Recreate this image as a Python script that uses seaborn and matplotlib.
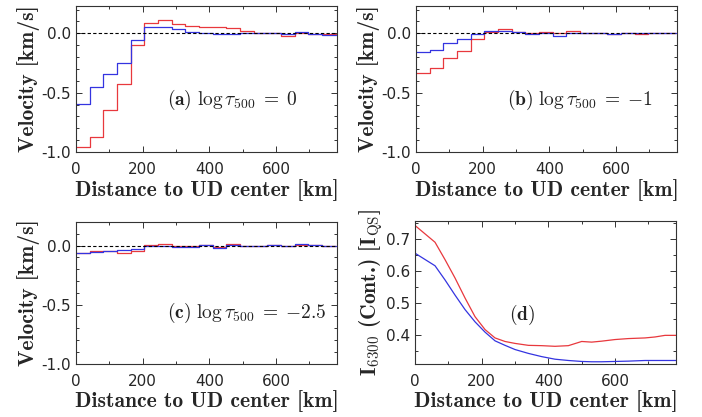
import matplotlib
matplotlib.use("Agg")
import numpy as np
import pandas as pd
import matplotlib.pyplot as plt
import seaborn as sns
from matplotlib.ticker import MultipleLocator

# -------------------------
# Data
# -------------------------
# bin edges of the velocity histograms [km]
bin_edges = [0, 41, 82, 123, 164, 205, 246, 287, 328, 369, 410,
             451, 492, 533, 574, 615, 656, 697, 738, 779]

# (a) log tau = 0
vel_a_red = [-0.955, -0.876, -0.646, -0.427, -0.098, 0.090, 0.112, 0.079, 0.065, 0.056,
             0.050, 0.042, 0.020, 0.005, 0.000, -0.020, 0.000, -0.005, -0.010]
vel_a_blue = [-0.596, -0.452, -0.340, -0.250, -0.056, 0.056, 0.050, 0.034, 0.008, 0.000,
              -0.010, -0.005, 0.000, 0.000, 0.000, -0.005, 0.010, -0.005, -0.015]

# (b) log tau = -1
vel_b_red = [-0.337, -0.290, -0.210, -0.146, -0.048, 0.008, 0.034, 0.014, 0.006, 0.010,
             0.005, 0.020, 0.006, 0.003, -0.005, 0.000, -0.005, 0.005, 0.000]
vel_b_blue = [-0.160, -0.140, -0.084, -0.050, -0.003, 0.020, 0.020, 0.008, -0.003, 0.000,
              -0.023, 0.000, 0.000, 0.002, -0.005, 0.000, 0.005, 0.000, 0.000]

# (c) log tau = -2.5
vel_c_red = [-0.062, -0.048, -0.048, -0.062, -0.042, 0.003, 0.014, 0.000, -0.005, 0.008,
             -0.008, 0.014, 0.000, 0.000, 0.008, 0.000, 0.005, 0.008, 0.000]
vel_c_blue = [-0.065, -0.054, -0.048, -0.037, -0.028, 0.000, 0.000, -0.008, -0.008, 0.008,
              -0.020, 0.008, 0.000, 0.000, 0.003, 0.000, 0.010, 0.005, 0.000]

# (d) continuum intensity
dist_d = [0, 60, 90, 120, 150, 180, 210, 240, 270, 300, 340, 380, 420, 460,
          500, 530, 560, 600, 640, 690, 720, 750, 783]
int_red = [0.741, 0.689, 0.635, 0.578, 0.516, 0.458, 0.418, 0.392, 0.381, 0.375, 0.369,
           0.368, 0.366, 0.368, 0.381, 0.379, 0.382, 0.387, 0.390, 0.392, 0.395, 0.400, 0.400]
int_blue = [0.655, 0.616, 0.572, 0.525, 0.480, 0.442, 0.410, 0.383, 0.369, 0.356, 0.344,
            0.334, 0.326, 0.322, 0.319, 0.318, 0.318, 0.319, 0.320, 0.322, 0.322, 0.322, 0.322]

panel_texts = [r"$\mathbf{(a)}\ \log\tau_{500}\;=\;0$",
               r"$\mathbf{(b)}\ \log\tau_{500}\;=\;{-}1$",
               r"$\mathbf{(c)}\ \log\tau_{500}\;=\;{-}2.5$",
               r"$\mathbf{(d)}$"]

RED = "#e8383d"
BLUE = "#3434e0"
XLABEL = "Distance to UD center [km]"
SERIF_BOLD = ["cmb10", "DejaVu Serif"]


def steps_frame(values):
    # last value repeated so the final bin is drawn to its right edge
    return pd.DataFrame({"x": bin_edges, "y": list(values) + [values[-1]]})


def style_axis(ax, ymaj, ymin):
    ax.set_xlim(0, 783)
    ax.xaxis.set_major_locator(MultipleLocator(200))
    ax.xaxis.set_minor_locator(MultipleLocator(100))
    ax.yaxis.set_major_locator(MultipleLocator(ymaj))
    ax.yaxis.set_minor_locator(MultipleLocator(ymin))
    ax.tick_params(which="both", direction="in", top=True, right=True,
                   labelsize=11, color="#333333", width=0.7)
    ax.tick_params(axis="x", which="both", pad=7.5)
    ax.tick_params(which="major", length=4)
    ax.tick_params(which="minor", length=2.5)
    for s in ax.spines.values():
        s.set_linewidth(0.8)
        s.set_color("#333333")
    ax.set_xlabel(XLABEL, fontsize=15.5, family=SERIF_BOLD, labelpad=1)


def velocity_panel(ax, red, blue, text, ytop):
    sns.lineplot(data=steps_frame(red), x="x", y="y", ax=ax, color=RED,
                 drawstyle="steps-post", linewidth=0.9, estimator=None)
    sns.lineplot(data=steps_frame(blue), x="x", y="y", ax=ax, color=BLUE,
                 drawstyle="steps-post", linewidth=0.9, estimator=None)
    ax.axhline(0, color="black", linestyle=(0, (3, 2)), linewidth=0.8)
    ax.set_ylim(-1.0, ytop)
    style_axis(ax, 0.5, 0.1)
    ax.yaxis.set_major_formatter(plt.FormatStrFormatter("%.1f"))
    ax.set_ylabel("Velocity [km/s]", fontsize=15.5, family=SERIF_BOLD, labelpad=1)
    ax.text(0.35, 0.355, text, transform=ax.transAxes, fontsize=14,
            color="#222222", va="center", ha="left")


def main():
    sns.set_style("ticks")
    plt.rcParams["font.family"] = ["DejaVu Sans"]
    plt.rcParams["mathtext.fontset"] = "cm"
    plt.rcParams["axes.unicode_minus"] = False

    fig = plt.figure(figsize=(7.02, 4.17), dpi=100)
    fig.patch.set_facecolor("white")

    ax_a = fig.add_axes([0.1083, 0.6355, 0.3718, 0.3501])
    ax_b = fig.add_axes([0.5926, 0.6355, 0.3718, 0.3501])
    ax_c = fig.add_axes([0.1083, 0.1278, 0.3718, 0.3398])
    ax_d = fig.add_axes([0.5912, 0.1278, 0.3718, 0.3415])

    velocity_panel(ax_a, vel_a_red, vel_a_blue, panel_texts[0], 0.23)
    velocity_panel(ax_b, vel_b_red, vel_b_blue, panel_texts[1], 0.23)
    velocity_panel(ax_c, vel_c_red, vel_c_blue, panel_texts[2], 0.20)

    df_d = pd.DataFrame({"x": dist_d, "red": int_red, "blue": int_blue})
    sns.lineplot(data=df_d, x="x", y="red", ax=ax_d, color=RED, linewidth=0.9, estimator=None)
    sns.lineplot(data=df_d, x="x", y="blue", ax=ax_d, color=BLUE, linewidth=0.9, estimator=None)
    ax_d.set_ylim(0.312, 0.754)
    style_axis(ax_d, 0.1, 0.05)
    ax_d.yaxis.set_major_formatter(plt.FormatStrFormatter("%.1f"))
    ax_d.set_ylabel(r"$\mathbf{I}_{6300}$ (Cont.) [$\mathbf{I}_{\rm QS}$]",
                    fontsize=15.5, family=SERIF_BOLD, labelpad=1)
    ax_d.text(0.36, 0.345, panel_texts[3], transform=ax_d.transAxes, fontsize=14,
              color="#222222", va="center", ha="left")

    fig.savefig("out.png", dpi=100, facecolor="white")
    plt.close(fig)


if __name__ == "__main__":
    main()
